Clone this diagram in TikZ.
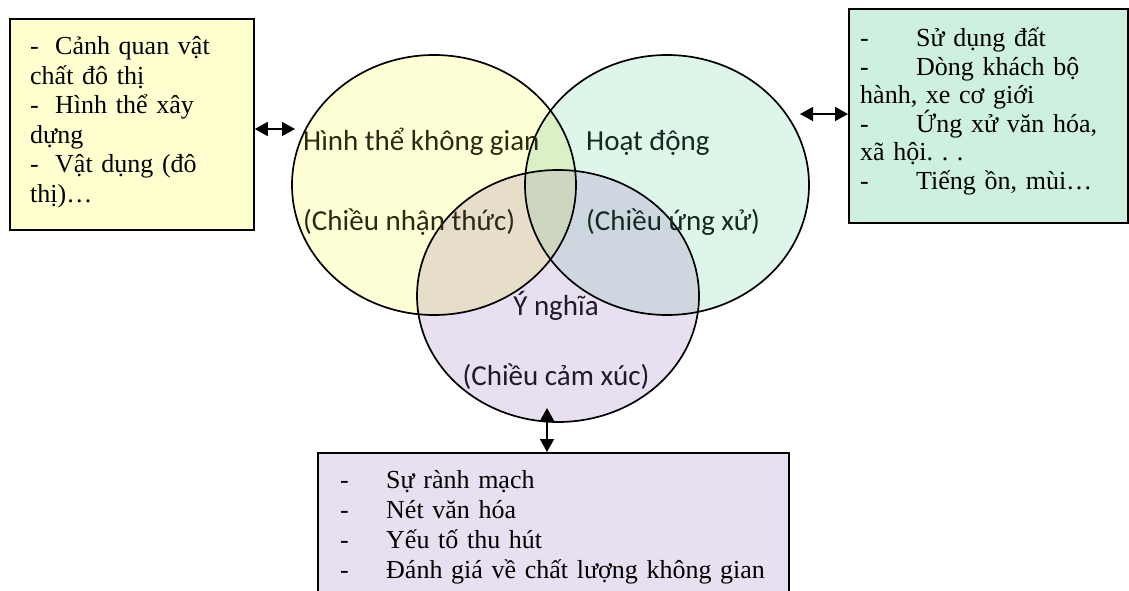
\documentclass[tikz,border=0pt]{standalone}
\usepackage{fontspec}
\setmainfont{Liberation Serif}
\newfontfamily\venntext{Carlito}
\usetikzlibrary{arrows.meta,shapes.geometric}
\frenchspacing
\definecolor{lboxfill}{HTML}{FFFFD0}
\definecolor{rboxfill}{HTML}{CEF0DE}
\definecolor{bboxfill}{HTML}{E6E0F0}
\definecolor{yelfill}{HTML}{FFFFD6}
\definecolor{grnfill}{HTML}{DEF5E9}
\definecolor{purfill}{HTML}{E8E0F0}
\definecolor{ygfill}{HTML}{DCF0C8}
\definecolor{ypfill}{HTML}{E6DEC8}
\definecolor{gpfill}{HTML}{CED6E0}
\definecolor{yfill3}{HTML}{CDD6BE}
\definecolor{yeltext}{HTML}{2A2A12}
\definecolor{grntext}{HTML}{132A1E}
\definecolor{purtext}{HTML}{21192C}
\tikzset{
  infobox/.style={draw=black, line width=1.8pt, rectangle, inner sep=0pt, anchor=north west},
  boxtext/.style={anchor=base west, inner sep=0pt, align=left, text width=#1,
    font=\fontsize{26}{29.5}\selectfont},
  vennline/.style={draw=black, line width=1.7pt, ellipse, inner sep=0pt,
    minimum width=284pt, minimum height=260pt},
  venntxt/.style={inner sep=0pt, font=\venntext\fontsize{29}{33}\selectfont},
  dblarrow/.style={line width=1.5pt, {Triangle[length=13pt,width=14pt]}-{Triangle[length=13pt,width=14pt]}}
}
\begin{document}
\begin{tikzpicture}[x=1pt,y=-1pt]
\useasboundingbox (0,0) rectangle (1129,591);
% ellipse fills
\fill[yelfill] (434,185) ellipse [x radius=142pt, y radius=130pt];
\fill[grnfill] (667,185) ellipse [x radius=142pt, y radius=130pt];
\fill[purfill] (558,296) ellipse [x radius=141pt, y radius=126pt];
\begin{scope}
  \clip (434,185) ellipse [x radius=142pt, y radius=130pt];
  \fill[ygfill] (667,185) ellipse [x radius=142pt, y radius=130pt];
  \fill[ypfill] (558,296) ellipse [x radius=141pt, y radius=126pt];
  \clip (667,185) ellipse [x radius=142pt, y radius=130pt];
  \fill[yfill3] (558,296) ellipse [x radius=141pt, y radius=126pt];
\end{scope}
\begin{scope}[even odd rule]
  \clip (667,185) ellipse [x radius=142pt, y radius=130pt];
  \clip (-100,-100) rectangle (1300,700) (434,185) ellipse [x radius=142pt, y radius=130pt];
  \fill[gpfill] (558,296) ellipse [x radius=141pt, y radius=126pt];
\end{scope}
% ellipse outlines
\node[vennline] (hinhthe) at (434,185) {};
\node[vennline] (hoatdong) at (667,185) {};
\node[vennline, minimum width=282pt, minimum height=252pt] (ynghia) at (558,296) {};
% ellipse texts
\node[venntxt, text=yeltext, anchor=base west] (t1) at (303,150) {Hình thể không gian};
\node[venntxt, text=yeltext, anchor=base west] (t2) at (303,230) {(Chiều nhận thức)};
\node[venntxt, text=grntext, anchor=base west] (t3) at (586,150) {Hoạt động};
\node[venntxt, text=grntext, anchor=base west] (t4) at (586,230) {(Chiều ứng xử)};
\node[venntxt, text=purtext, anchor=base] (t5) at (556,315) {Ý nghĩa};
\node[venntxt, text=purtext, anchor=base] (t6) at (556,385) {(Chiều cảm xúc)};
% boxes
\node[infobox, fill=lboxfill, minimum width=244pt, minimum height=211pt] (leftbox) at (9,18) {};
\node[boxtext=215pt] (lefttext) at (30,55) {\makebox[25pt][l]{-}Cảnh quan vật\\chất đô thị\\\makebox[25pt][l]{-}Hình thể xây\\dựng\\\makebox[25pt][l]{-}Vật dụng (đô\\thị)…};
\node[infobox, fill=rboxfill, minimum width=279pt, minimum height=214pt] (rightbox) at (848,8) {};
\node[boxtext=260pt, font=\fontsize{26}{28.5}\selectfont] (righttext) at (860,47) {\makebox[56pt][l]{-}Sử dụng đất\\\makebox[56pt][l]{-}Dòng khách bộ\\hành, xe cơ giới\\\makebox[56pt][l]{-}Ứng xử văn hóa,\\xã hội. . .\\\makebox[56pt][l]{-}Tiếng ồn, mùi…};
\node[infobox, fill=bboxfill, minimum width=471pt, minimum height=160pt] (bottombox) at (317,452) {};
\node[boxtext=440pt, font=\fontsize{26}{30}\selectfont] (bottomtext) at (340,488) {\makebox[46pt][l]{-}Sự rành mạch\\\makebox[46pt][l]{-}Nét văn hóa\\\makebox[46pt][l]{-}Yếu tố thu hút\\\makebox[46pt][l]{-}Đánh giá về chất lượng không gian};
% connectors
\coordinate (lend) at (295,129);
\coordinate (rend) at (800,114);
\coordinate (bend) at (547,408);
\draw[dblarrow] (leftbox.east |- lend) -- (lend);
\draw[dblarrow] (rend) -- (rightbox.west |- rend);
\draw[dblarrow] (bend) -- (bottombox.north -| bend);
\end{tikzpicture}
\end{document}
